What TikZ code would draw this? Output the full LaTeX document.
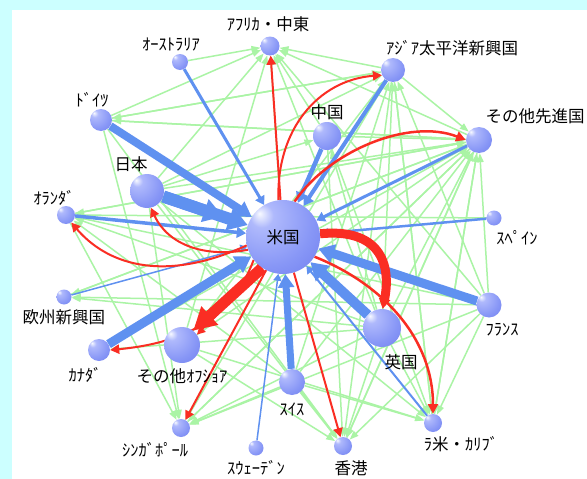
\documentclass[tikz,border=0pt]{standalone}
\usepackage{fontspec}
\setmainfont{Noto Sans CJK JP}
\usetikzlibrary{arrows.meta}
\definecolor{bgcyan}{RGB}{204,255,255}
\definecolor{bluec}{RGB}{95,145,240}
\definecolor{redc}{RGB}{250,45,35}
\definecolor{greenc}{RGB}{170,244,165}
\definecolor{sp0}{RGB}{248,250,255}
\definecolor{sp1}{RGB}{175,185,252}
\definecolor{sp2}{RGB}{135,150,246}
\definecolor{sp3}{RGB}{85,100,230}
\pgfdeclareradialshading{sphere}{\pgfpoint{-16bp}{16bp}}{color(0bp)=(sp0); color(8bp)=(sp1); color(30bp)=(sp2); color(66bp)=(sp3); color(80bp)=(sp3)}
\pgfdeclarelayer{back}
\pgfdeclarelayer{edges}
\pgfsetlayers{back,edges,main}
\tikzset{
  ball/.style={circle, inner sep=0pt, shade, shading=sphere, minimum size=#1},
  lbl/.style={font=\fontsize{16.5}{17}\selectfont, inner sep=0pt, text=black},
  bar/.style={draw=bluec, line width=#1, -{Triangle[length=5pt 1.2, width=6pt 1.4]}},
  rar/.style={draw=redc, line width=#1, -{Triangle[length=6pt 1.5, width=6pt 1.6]}},
  gr/.style={draw=greenc, line width=1.5pt, -{Triangle[length=9pt, width=6.5pt]}},
}
\begin{document}
\begin{tikzpicture}[x=1pt, y=-1pt]
\useasboundingbox (0,0) rectangle (587,479);
\begin{pgfonlayer}{back}
\fill[bgcyan] (0,0) rectangle (587,479);
\fill[white] (12,10) rectangle (587,479);
\end{pgfonlayer}

% balls
\node[ball=74pt, lbl] (us) at (283,237) {米国};
\node[ball=19pt] (af) at (270,46) {};
\node[ball=16pt] (au) at (180,62) {};
\node[ball=24pt] (ap) at (393,70) {};
\node[ball=22pt] (de) at (101,120) {};
\node[ball=28pt] (cn) at (327,136) {};
\node[ball=34pt] (jp) at (147,191) {};
\node[ball=26pt] (od) at (479,140) {};
\node[ball=18pt] (nl) at (66,215) {};
\node[ball=15pt] (es) at (494,218) {};
\node[ball=15pt] (ee) at (64,297) {};
\node[ball=25pt] (fr) at (489,305) {};
\node[ball=38pt] (uk) at (382,328) {};
\node[ball=22pt] (ca) at (99,350) {};
\node[ball=36pt] (oo) at (182,345) {};
\node[ball=26pt] (ch) at (292,382) {};
\node[ball=18pt] (sg) at (181,428) {};
\node[ball=18pt] (la) at (433,423) {};
\node[ball=15pt] (se) at (256,448) {};
\node[ball=18pt] (hk) at (343,446) {};

% labels
\node[lbl] (laf) at (268,24) {ｱﾌﾘｶ・中東};
\node[lbl] (lau) at (171,45) {ｵｰｽﾄﾗﾘｱ};
\node[lbl] (lap) at (452,48) {ｱｼﾞｱ太平洋新興国};
\node[lbl] (lde) at (92,100) {ﾄﾞｲﾂ};
\node[lbl] (lcn) at (327,112) {中国};
\node[lbl] (ljp) at (131,164) {日本};
\node[lbl] (lod) at (535,116) {その他先進国};
\node[lbl] (lnl) at (54,198) {ｵﾗﾝﾀﾞ};
\node[lbl] (les) at (517,238) {ｽﾍﾟｲﾝ};
\node[lbl] (lee) at (64,317) {欧州新興国};
\node[lbl] (lfr) at (502,330) {ﾌﾗﾝｽ};
\node[lbl] (luk) at (401,362) {英国};
\node[lbl] (lca) at (85,375) {ｶﾅﾀﾞ};
\node[lbl] (loo) at (182,376) {その他ｵﾌｼｮｱ};
\node[lbl] (lch) at (292,409) {ｽｲｽ};
\node[lbl] (lsg) at (155,450) {ｼﾝｶﾞﾎﾟｰﾙ};
\node[lbl] (lla) at (461,444) {ﾗ米・ｶﾘﾌﾞ};
\node[lbl] (lse) at (256,468) {ｽｳｪｰﾃﾞﾝ};
\node[lbl] (lhk) at (351,468) {香港};

\begin{pgfonlayer}{edges}
% green mesh
\foreach \a/\b in {au/af, ap/af, jp/af, de/af, cn/af, uk/af, ch/af, oo/af, fr/af, od/af,
  de/ap, jp/ap, uk/ap, ch/ap, fr/ap, oo/ap, la/ap,
  jp/od, de/od, uk/od, ch/od, oo/od, ap/od, ca/od, nl/od, fr/od, hk/od, la/od, sg/od, ee/od, cn/od,
  od/nl, uk/nl, fr/nl, ch/nl, es/nl,
  od/ee, uk/ee, fr/ee,
  uk/sg, ch/sg, fr/sg, ap/sg, jp/sg, de/sg, nl/sg, od/sg,
  uk/hk, ch/hk, jp/hk, oo/hk, fr/hk, ap/hk, cn/hk, od/hk, de/hk,
  uk/la, oo/la, ch/la, jp/la, ap/la, fr/la, od/la, cn/la,
  od/de, ap/de, uk/ca, uk/cn, jp/cn}
  \draw[gr] (\a) -- (\b);

% blue arrows into US
\draw[bar=8pt] (de) -- (us);
\draw[bar=12pt] (jp) -- (us);
\draw[bar=12pt, shorten >=26pt] (jp) -- (us);
\draw[bar=3pt] (au) -- (us);
\draw[bar=3.5pt] (nl) -- (us);
\draw[bar=4.5pt] (cn) -- (us);
\draw[bar=4pt] (ap) -- (us);
\draw[bar=3pt] (od) -- (us);
\draw[bar=2.5pt] (es) -- (us);
\draw[bar=9pt] (fr) -- (us);
\draw[bar=10pt] (uk) -- (us);
\draw[bar=2pt] (la) -- (us);
\draw[bar=7pt] (ch) -- (us);
\draw[bar=1.5pt] (se) -- (us);
\draw[bar=9pt] (ca) -- (us);
\draw[bar=1.5pt] (ee) -- (us);

% red arrows out of US
\draw[rar=2pt] (us) -- (af);
\draw[rar=2pt] (us.97) .. controls (276,130) and (318,80) .. (ap.205);
\draw[rar=2.5pt] (us.72) .. controls (330,150) and (410,118) .. (od.180);
\draw[draw=redc, line width=9pt, -{Triangle[length=10pt, width=11pt]}] (us.5) .. controls (378,228) and (392,262) .. (uk.88);
\draw[rar=11pt] (us.236) -- (oo.52);
\draw[rar=1.5pt] (us.228) .. controls (245,290) and (222,310) .. (oo.35);
\draw[rar=2pt] (us.200) .. controls (205,258) and (168,245) .. (jp.283);
\draw[rar=2pt] (us.193) .. controls (160,285) and (105,262) .. (nl.305);
\draw[rar=2pt] (us.218) .. controls (232,318) and (185,343) .. (ca.0);
\draw[rar=2pt] (us.243) -- (sg);
\draw[rar=2pt] (us.287) -- (hk);
\draw[rar=2.5pt] (us.328) .. controls (385,285) and (433,340) .. (la.90);
\end{pgfonlayer}
\end{tikzpicture}
\end{document}
